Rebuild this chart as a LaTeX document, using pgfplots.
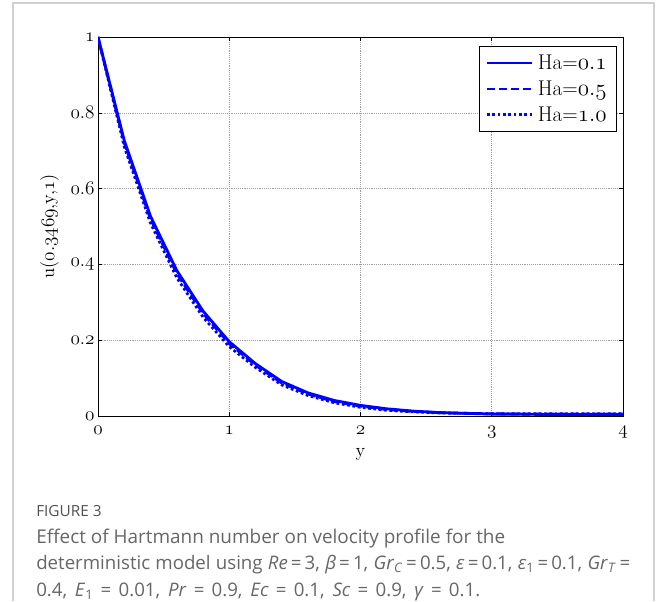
\documentclass[border=0pt]{standalone}
\usepackage{fontspec}
\usepackage{pgfplots}
\pgfplotsset{compat=1.18}
\newfontfamily\capfont{Open Sans}
\definecolor{capgray}{HTML}{666666}
\definecolor{capframe}{HTML}{D0D0D0}
\newcommand{\os}[1]{$\mathnormal{#1}$}

\begin{document}
\begin{tikzpicture}
% page box and light frame (1px = 0.75pt)
\path (0pt,0pt) rectangle (493.5pt,-450.75pt);
\draw[capframe, line width=0.9pt] (9.75pt,-451pt) -- (9.75pt,-2.25pt) -- (490.5pt,-2.25pt) -- (490.5pt,-451pt);

\begin{axis}[
    at={(73.5pt,-312pt)}, anchor=south west,
    scale only axis,
    width=393.75pt, height=284.25pt,
    xmin=0, xmax=4, ymin=0, ymax=1,
    xtick={0,1,2,3,4},
    xticklabels={\os{0},\os{1},\os{2},\os{3},\os{4}},
    ytick={0,0.2,0.4,0.6,0.8,1},
    yticklabels={\os{0},\os{0.2},\os{0.4},\os{0.6},\os{0.8},\os{1}},
    tick label style={font=\fontsize{14}{16}\selectfont},
    xticklabel style={yshift=-4pt},
    yticklabel style={xshift=1pt},
    label style={font=\fontsize{14}{16}\selectfont},
    xlabel={y},
    ylabel={u(\os{0.3469},y,\os{1})},
    xlabel style={yshift=-1pt},
    ylabel style={yshift=2pt},
    major tick length=3pt,
    tick style={black, thin},
    axis line style={black, semithick},
    grid=major,
    major grid style={gray!75, densely dotted, thin},
    legend style={at={(1,1)}, anchor=north east, xshift=-4.5pt, yshift=-6.5pt,
        font=\fontsize{16}{18}\selectfont, draw=black, semithick,
        row sep=3pt, inner sep=4.5pt,
        nodes={inner xsep=3pt}},
    legend cell align=left,
    legend image code/.code={\draw[#1, line width=2.1pt] (0pt,0pt) -- (34pt,0pt);},
    every axis plot/.append style={blue, line width=2.1pt},
]
\addplot[solid] coordinates {
(0,1)(0.2,0.727)(0.4,0.527)(0.6,0.384)(0.8,0.277)(1.0,0.196)(1.2,0.138)(1.4,0.091)
(1.6,0.061)(1.8,0.041)(2.0,0.028)(2.2,0.019)(2.4,0.013)(2.6,0.009)(2.8,0.007)
(3.0,0.005)(3.2,0.005)(3.4,0.004)(3.6,0.004)(3.8,0.004)(4.0,0.004)};
\addlegendentry{Ha=\os{0.1}}
\addplot[dash pattern=on 6pt off 3pt] coordinates {
(0,1)(0.2,0.721)(0.4,0.520)(0.6,0.376)(0.8,0.271)(1.0,0.191)(1.2,0.134)(1.4,0.087)
(1.6,0.058)(1.8,0.038)(2.0,0.026)(2.2,0.017)(2.4,0.012)(2.6,0.009)(2.8,0.007)
(3.0,0.006)(3.2,0.005)(3.4,0.005)(3.6,0.005)(3.8,0.005)(4.0,0.005)};
\addlegendentry{Ha=\os{0.5}}
\addplot[dash pattern=on 2pt off 2pt] coordinates {
(0,1)(0.2,0.711)(0.4,0.509)(0.6,0.365)(0.8,0.261)(1.0,0.183)(1.2,0.128)(1.4,0.082)
(1.6,0.054)(1.8,0.035)(2.0,0.023)(2.2,0.015)(2.4,0.011)(2.6,0.008)(2.8,0.007)
(3.0,0.006)(3.2,0.006)(3.4,0.006)(3.6,0.006)(3.8,0.006)(4.0,0.006)};
\addlegendentry{Ha=\os{1.0}}
\end{axis}

% caption
\begin{scope}[every node/.style={anchor=base west, inner sep=0pt, text=capgray}]
\node at (27pt,-387.5pt) {\capfont\fontsize{11.5}{13}\selectfont\color{capgray!80!black} FIGURE 3};
\node at (27pt,-407.5pt) {\capfont\fontsize{14.2}{16}\selectfont Effect of Hartmann number on velocity profile for the};
\node at (27pt,-427.3pt) {\capfont\fontsize{14}{16}\selectfont\makebox[445.5pt][s]{deterministic model using \textit{Re}\,=\,3, \textit{β}\,=\,1, \textit{Gr}\textsubscript{\textit{C}}\,=\,0.5, \textit{ε}\,=\,0.1, \textit{ε}\textsubscript{1}\,=\,0.1, \textit{Gr}\textsubscript{\textit{T}}\,=}};
\node at (27pt,-447.2pt) {\capfont\fontsize{14}{16}\selectfont\makebox[333pt][s]{0.4, \textit{E}\textsubscript{1} = 0.01, \textit{Pr} = 0.9, \textit{Ec} = 0.1, \textit{Sc} = 0.9, \textit{γ} = 0.1.}};
\end{scope}
\end{tikzpicture}
\end{document}
